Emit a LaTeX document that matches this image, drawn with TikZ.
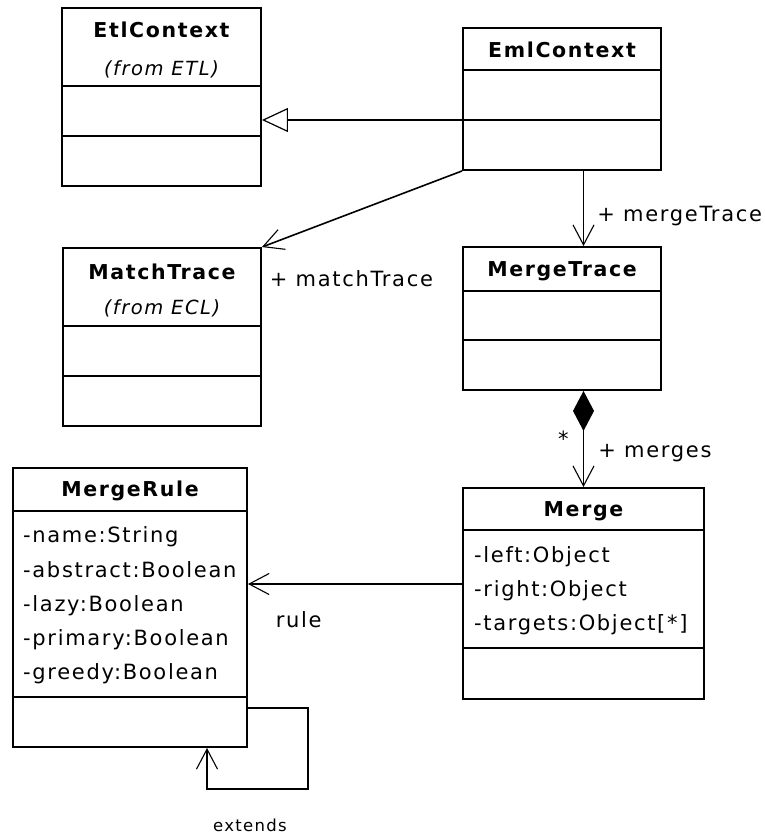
\documentclass[tikz,border=0pt]{standalone}
\usepackage{fontspec}
\setmainfont{DejaVu Sans}[LetterSpace=8]
\usetikzlibrary{arrows.meta,positioning}

\begin{document}
\begin{tikzpicture}[x=1pt,y=-1pt,
        class/.style={draw,line width=1.9pt,rectangle,inner sep=0pt},
        cname/.style={font=\bfseries\fontsize{20.5}{24}\selectfont},
        pkg/.style={font=\itshape\fontsize{19.5}{23}\selectfont},
        attr/.style={font=\fontsize{21}{25}\selectfont,anchor=west,inner sep=0pt,text height=15pt,text depth=4pt},
        lbl/.style={font=\fontsize{21}{25}\selectfont,inner sep=0pt},
        sep/.style={line width=1.9pt},
        assoc/.style={line width=1.6pt,-{Straight Barb[length=20pt,width=21pt,line width=1.1pt]}},
        gen/.style={line width=1.6pt,-{Triangle[length=26pt,width=24pt,fill=white,line width=1.2pt]}},
        comp/.style={line width=1.6pt,{Diamond[length=40pt,width=21pt]}-{Straight Barb[length=20pt,width=21pt,line width=1.1pt]}}]
    \useasboundingbox (0,0) rectangle (765,835);

    % classes
    \node[class,minimum width=199pt,minimum height=178pt] (etl) at (161.5,97) {};
    \node[class,minimum width=198pt,minimum height=142pt] (eml) at (562,99) {};
    \node[class,minimum width=198pt,minimum height=178pt] (match) at (162,337) {};
    \node[class,minimum width=198pt,minimum height=143pt] (mtrace) at (562,318.5) {};
    \node[class,minimum width=241pt,minimum height=211pt] (merge) at (583.5,593.5) {};
    \node[class,minimum width=234pt,minimum height=279pt] (rule) at (130,607.5) {};

    % compartments
    \draw[sep] (etl.west |- 0,86) -- (etl.east |- 0,86);
    \draw[sep] (etl.west |- 0,136) -- (etl.east |- 0,136);
    \draw[sep] (eml.west |- 0,70) -- (eml.east |- 0,70);
    \draw[sep] (eml.west |- 0,120) coordinate (eml-g) -- (eml.east |- 0,120);
    \draw[sep] (match.west |- 0,326) -- (match.east |- 0,326);
    \draw[sep] (match.west |- 0,376) -- (match.east |- 0,376);
    \draw[sep] (mtrace.west |- 0,291) -- (mtrace.east |- 0,291);
    \draw[sep] (mtrace.west |- 0,340) -- (mtrace.east |- 0,340);
    \draw[sep] (merge.west |- 0,530) -- (merge.east |- 0,530);
    \draw[sep] (merge.west |- 0,648) -- (merge.east |- 0,648);
    \draw[sep] (rule.west |- 0,511) -- (rule.east |- 0,511);
    \draw[sep] (rule.west |- 0,697) -- (rule.east |- 0,697);

    % names
    \node[cname] (etl-n) at (etl.north |- 0,30) {EtlContext};
    \node[pkg] (etl-p) at (etl.north |- 0,69) {(from ETL)};
    \node[cname] (eml-n) at (eml.north |- 0,50) {EmlContext};
    \node[cname] (match-n) at (match.north |- 0,272) {MatchTrace};
    \node[pkg] (match-p) at (match.north |- 0,308) {(from ECL)};
    \node[cname] (mtrace-n) at (mtrace.north |- 0,271) {MergeTrace};
    \node[cname] (merge-n) at (merge.north |- 0,511) {Merge};
    \node[cname] (rule-n) at (rule.north |- 0,491) {MergeRule};

    % attributes
    \node[attr] (merge-a1) at (474,557) {-left:Object};
    \node[attr] (merge-a2) at (474,591) {-right:Object};
    \node[attr] (merge-a3) at (474,625) {-targets:Object[*]};
    \node[attr] (rule-a1) at (23,537) {-name:String};
    \node[attr] (rule-a2) at (23,572) {-abstract:Boolean};
    \node[attr] (rule-a3) at (23,606) {-lazy:Boolean};
    \node[attr] (rule-a4) at (23,640) {-primary:Boolean};
    \node[attr] (rule-a5) at (23,674) {-greedy:Boolean};

    % relations
    \draw[gen] (eml-g) -- (eml-g -| etl.east);
    \draw[assoc] (eml.south west) -- (match.north east)
        node[lbl,anchor=west] (match-l) at ([xshift=7pt,yshift=-32pt]match.north east) {+ matchTrace};
    \draw[assoc] (eml.south -| merge.north) -- (mtrace.north -| merge.north)
        node[lbl,anchor=west,pos=0.6] (mtrace-l) [xshift=13pt] {+ mergeTrace};
    \draw[comp] (mtrace.south -| merge.north) -- (merge.north)
        node[lbl,anchor=west,pos=0.65] (merge-l) [xshift=14pt] {+ merges}
        node[lbl,anchor=east,pos=0.5] (merge-m) [xshift=-14pt] {*};
    \draw[assoc] (merge.west |- 0,584) -- (rule.east |- 0,584)
        node[lbl,anchor=west] (rule-l) at (275,620) {rule};
    \coordinate (loop) at (308,789);
    \draw[assoc] (rule.east |- 0,708) -| (loop) -| (rule.south -| 207,0);
    \node[lbl,font=\fontsize{16.5}{19}\selectfont] (loop-l) at (250,825) {extends};
\end{tikzpicture}
\end{document}
